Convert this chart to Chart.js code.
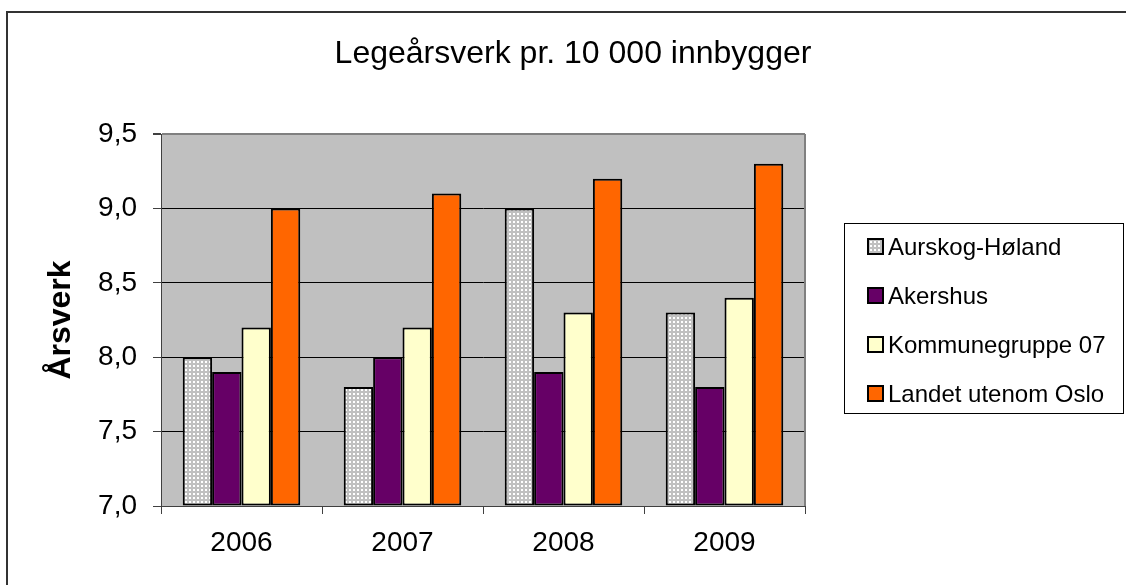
<!DOCTYPE html>
<html>
<head>
<meta charset="utf-8">
<title>Legeårsverk pr. 10 000 innbygger</title>
<script src="https://cdn.jsdelivr.net/npm/chart.js@4.4.1/dist/chart.umd.min.js"></script>
<style>
  body { margin: 0; background: #fff; }
  #wrap { position: relative; width: 1126px; height: 585px; }
  #legend {
    position: absolute; left: 844px; top: 223px; width: 280px; height: 191px;
    border: 1px solid #000; box-sizing: border-box;
    font: 24px "Liberation Sans", Arial, sans-serif; color: #000;
  }
  #legend ul { list-style: none; margin: -2px 0 0 0; padding: 0; }
  #legend li { height: 49px; display: flex; align-items: center; padding-left: 22px; }
  #legend .swatch {
    width: 13px; height: 13px; border: 2px solid #000; margin-right: 4px;
    flex: none; background-size: 4px 4px;
  }
</style>
</head>
<body>
<div id="wrap">
  <canvas id="chart" width="1126" height="585"></canvas>
  <div id="legend"></div>
</div>
<script>
// Data
const years = ['2006', '2007', '2008', '2009'];
const seriesNames = ['Aurskog-Høland', 'Akershus', 'Kommunegruppe 07', 'Landet utenom Oslo'];
const aurskogHoland = [8.0, 7.8, 9.0, 8.3];
const akershus = [7.9, 8.0, 7.9, 7.8];
const kommunegruppe07 = [8.2, 8.2, 8.3, 8.4];
const landetUtenomOslo = [9.0, 9.1, 9.2, 9.3];
const titleText = 'Legeårsverk pr. 10 000 innbygger';
const yTitle = 'Årsverk';

const FONT = '"Liberation Sans", Arial, sans-serif';

//dotted fill used for the first series
const dotTile = document.createElement('canvas');
dotTile.width = 4;
dotTile.height = 4;
const dt = dotTile.getContext('2d');
dt.fillStyle = '#c0c0c0';
dt.fillRect(0, 0, 4, 4);
dt.fillStyle = '#ffffff';
dt.fillRect(1, 1, 2, 2);
const dotPattern = dt.createPattern(dotTile, 'repeat');

//plot background, frame and title
const backdrop = {
    id: 'backdrop',
    beforeDraw(chart) {
        const {ctx, chartArea: a} = chart;
        ctx.save();
        ctx.fillStyle = '#fff';
        ctx.fillRect(0, 0, chart.width, chart.height);
        ctx.strokeStyle = '#333';
        ctx.lineWidth = 2;
        ctx.beginPath();
        ctx.moveTo(7, chart.height);
        ctx.lineTo(7, 12);
        ctx.lineTo(chart.width, 12);
        ctx.stroke();
        ctx.fillStyle = '#c0c0c0';
        ctx.fillRect(a.left, a.top, a.right - a.left, a.bottom - a.top);
        ctx.restore();
    },
    afterDraw(chart) {
        const {ctx, chartArea: a} = chart;
        ctx.save();
        ctx.strokeStyle = '#808080';
        ctx.lineWidth = 2;
        ctx.beginPath();
        ctx.moveTo(a.right, a.top);
        ctx.lineTo(a.right, a.bottom);
        ctx.stroke();
        ctx.fillStyle = '#000';
        ctx.font = '32px ' + FONT;
        ctx.textAlign = 'center';
        ctx.textBaseline = 'alphabetic';
        ctx.fillText(titleText, 573, 63);
        ctx.restore();
    }
};

//html legend built from the datasets
const htmlLegend = {
    id: 'htmlLegend',
    afterUpdate(chart) {
        const box = document.getElementById('legend');
        const ul = document.createElement('ul');
        chart.data.datasets.forEach((ds, i) => {
            const li = document.createElement('li');
            const sw = document.createElement('span');
            sw.className = 'swatch';
            if (i === 0) {
                sw.style.backgroundImage = 'url(' + dotTile.toDataURL() + ')';
            } else {
                sw.style.background = ds.backgroundColor;
            }
            li.appendChild(sw);
            li.appendChild(document.createTextNode(ds.label));
            ul.appendChild(li);
        });
        box.innerHTML = '';
        box.appendChild(ul);
    }
};

const colors = [dotPattern, '#660066', '#ffffcc', '#ff6600'];
const values = [aurskogHoland, akershus, kommunegruppe07, landetUtenomOslo];

const chart = new Chart(document.getElementById('chart'), {
    type: 'bar',
    data: {
        labels: years,
        datasets: values.map((v, i) => ({
            label: seriesNames[i],
            data: v,
            backgroundColor: colors[i],
            borderColor: '#000',
            borderWidth: 2,
            borderSkipped: false,
            base: 7,
            barPercentage: 1,
            categoryPercentage: 0.73,
        })),
    },
    options: {
        responsive: false,
        animation: false,
        layout: {padding: {top: 134, right: 321, bottom: 29, left: 10}},
        plugins: {
            legend: {display: false},
            title: {display: false},
            tooltip: {enabled: false},
        },
        scales: {
            x: {
                grid: {
                    drawOnChartArea: false,
                    tickLength: 8,
                    tickColor: '#404040',
                    offset: true,
                },
                border: {color: '#404040', width: 1},
                ticks: {color: '#000', font: {family: FONT, size: 28}, padding: 12},
                afterFit(scale) { scale.height = 50; },
            },
            y: {
                min: 7,
                max: 9.5,
                ticks: {
                    stepSize: 0.5,
                    color: '#000',
                    font: {family: FONT, size: 28},
                    padding: 16,
                    callback: v => v.toFixed(1).replace('.', ','),
                },
                grid: {
                    color: c => c.tick && c.tick.value === 9.5 ? '#808080' : '#000',
                    lineWidth: c => c.tick && c.tick.value === 9.5 ? 2 : 1,
                    tickLength: 8,
                    tickColor: '#404040',
                },
                border: {color: '#404040', width: 1},
                title: {
                    display: true,
                    text: yTitle,
                    color: '#000',
                    font: {family: FONT, size: 32, weight: 'bold'},
                    padding: {top: 32, bottom: 0},
                },
                afterFit(scale) { scale.width = 151; },
            },
        },
    },
    plugins: [backdrop, htmlLegend],
});
</script>
</body>
</html>
